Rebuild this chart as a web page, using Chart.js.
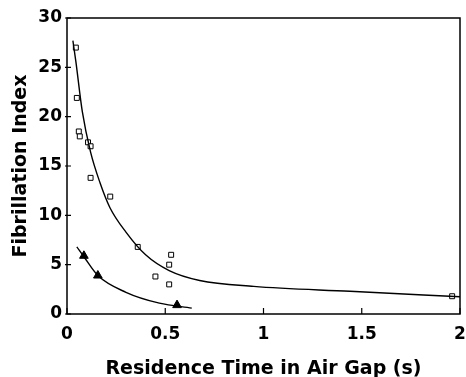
<!DOCTYPE html>
<html>
<head>
<meta charset="utf-8">
<script src="https://cdn.jsdelivr.net/npm/chart.js@4.4.1/dist/chart.umd.min.js"></script>
<style>
  html, body { margin: 0; padding: 0; background: #fff; }
  #wrap { width: 466px; height: 377px; }
</style>
</head>
<body>
<div id="wrap"><canvas id="fibChart"></canvas></div>
<script>
// open squares - measured fibrillation index
var squareX = [0.045, 0.05, 0.06, 0.065, 0.107, 0.12, 0.12, 0.22, 0.36, 0.45, 0.53, 0.52, 0.52, 1.96];
var squareY = [27, 21.9, 18.5, 18, 17.4, 17, 13.8, 11.9, 6.8, 3.8, 6.0, 5.0, 3.0, 1.8];

// filled triangles
var triX = [0.086, 0.157, 0.56];
var triY = [5.9, 3.9, 0.9];

// fitted curves
var upperX = [0.03, 0.045, 0.078, 0.12, 0.168, 0.218, 0.30, 0.40, 0.52, 0.675, 0.95, 1.44, 2.0];
var upperY = [27.7, 25.6, 20.5, 16.4, 13.3, 10.8, 8.3, 6.0, 4.4, 3.4, 2.8, 2.3, 1.75];
var lowerX = [0.05, 0.086, 0.157, 0.30, 0.47, 0.635];
var lowerY = [6.8, 5.8, 3.9, 2.2, 1.1, 0.6];

var xTicks = [0, 0.5, 1, 1.5, 2];
var yTicks = [0, 5, 10, 15, 20, 25, 30];

function toPoints(xs, ys){
  var pts = [];
  for (var i = 0; i < xs.length; i++) { pts.push({x: xs[i], y: ys[i]}); }
  return pts;
}

// frame round the plot area + inward tick marks
var frameAndTicks = {
  id: 'frameAndTicks',
  afterDatasetsDraw: function(chart){
    var ctx = chart.ctx, a = chart.chartArea;
    var xs = chart.scales.x, ys = chart.scales.y;
    ctx.save();
    ctx.strokeStyle = '#000';
    ctx.lineWidth = 1.5;
    ctx.strokeRect(a.left, a.top, a.right - a.left, a.bottom - a.top);
    ctx.lineWidth = 1.2;
    ctx.beginPath();
    xTicks.forEach(function(v){
      var px = xs.getPixelForValue(v);
      ctx.moveTo(px, a.bottom); ctx.lineTo(px, a.bottom - 6);
    });
    yTicks.forEach(function(v){
      var py = ys.getPixelForValue(v);
      ctx.moveTo(a.left - 2, py); ctx.lineTo(a.left + 4, py);
    });
    ctx.stroke();
    ctx.restore();
  }
};

var tickFont = { family: 'DejaVu Sans', size: 17, weight: 'bold' };
var titleFont = { family: 'DejaVu Sans', size: 19, weight: 'bold' };

new Chart(document.getElementById('fibChart'), {
  type: 'scatter',
  data: {
    datasets: [
      {
        label: 'upper fit', data: toPoints(upperX, upperY), showLine: true,
        borderColor: '#000', borderWidth: 1.4, pointRadius: 0, cubicInterpolationMode: 'monotone'
      },
      {
        label: 'lower fit', data: toPoints(lowerX, lowerY), showLine: true,
        borderColor: '#000', borderWidth: 1.4, pointRadius: 0, cubicInterpolationMode: 'monotone'
      },
      {
        label: 'squares', data: toPoints(squareX, squareY),
        pointStyle: 'rect', pointRadius: 3.5, borderColor: '#000', borderWidth: 1,
        backgroundColor: '#fff'
      },
      {
        label: 'triangles', data: toPoints(triX, triY),
        pointStyle: 'triangle', pointRadius: 5, borderColor: '#000', borderWidth: 1,
        backgroundColor: '#000'
      }
    ]
  },
  options: {
    responsive: true,
    maintainAspectRatio: false,
    animation: false,
    layout: { padding: { top: 18, right: 6, left: 10, bottom: 0 } },
    plugins: { legend: { display: false }, tooltip: { enabled: false } },
    scales: {
      x: {
        type: 'linear', min: 0, max: 2,
        afterBuildTicks: function(s){ s.ticks = xTicks.map(function(v){ return {value: v}; }); },
        afterFit: function(s){ s.height = 63; s.paddingRight = 0; s.paddingLeft = 0; },
        grid: { display: false, drawTicks: false },
        border: { display: false },
        ticks: { color: '#000', font: tickFont, padding: 10, maxRotation: 0,
                 callback: function(v){ return String(v); } },
        title: { display: true, text: 'Residence Time in Air Gap (s)', color: '#000', font: titleFont, padding: { top: 17, bottom: -3 } }
      },
      y: {
        type: 'linear', min: 0, max: 30,
        afterBuildTicks: function(s){ s.ticks = yTicks.map(function(v){ return {value: v}; }); },
        afterFit: function(s){ s.width = 57; s.paddingTop = 0; s.paddingBottom = 0; },
        grid: { display: false, drawTicks: false },
        border: { display: false },
        ticks: { color: '#000', font: tickFont, padding: 5,
                 callback: function(v){ return String(v); } },
        title: { display: true, text: 'Fibrillation Index', color: '#000', font: titleFont, padding: 0 }
      }
    }
  },
  plugins: [frameAndTicks]
});
</script>
</body>
</html>
